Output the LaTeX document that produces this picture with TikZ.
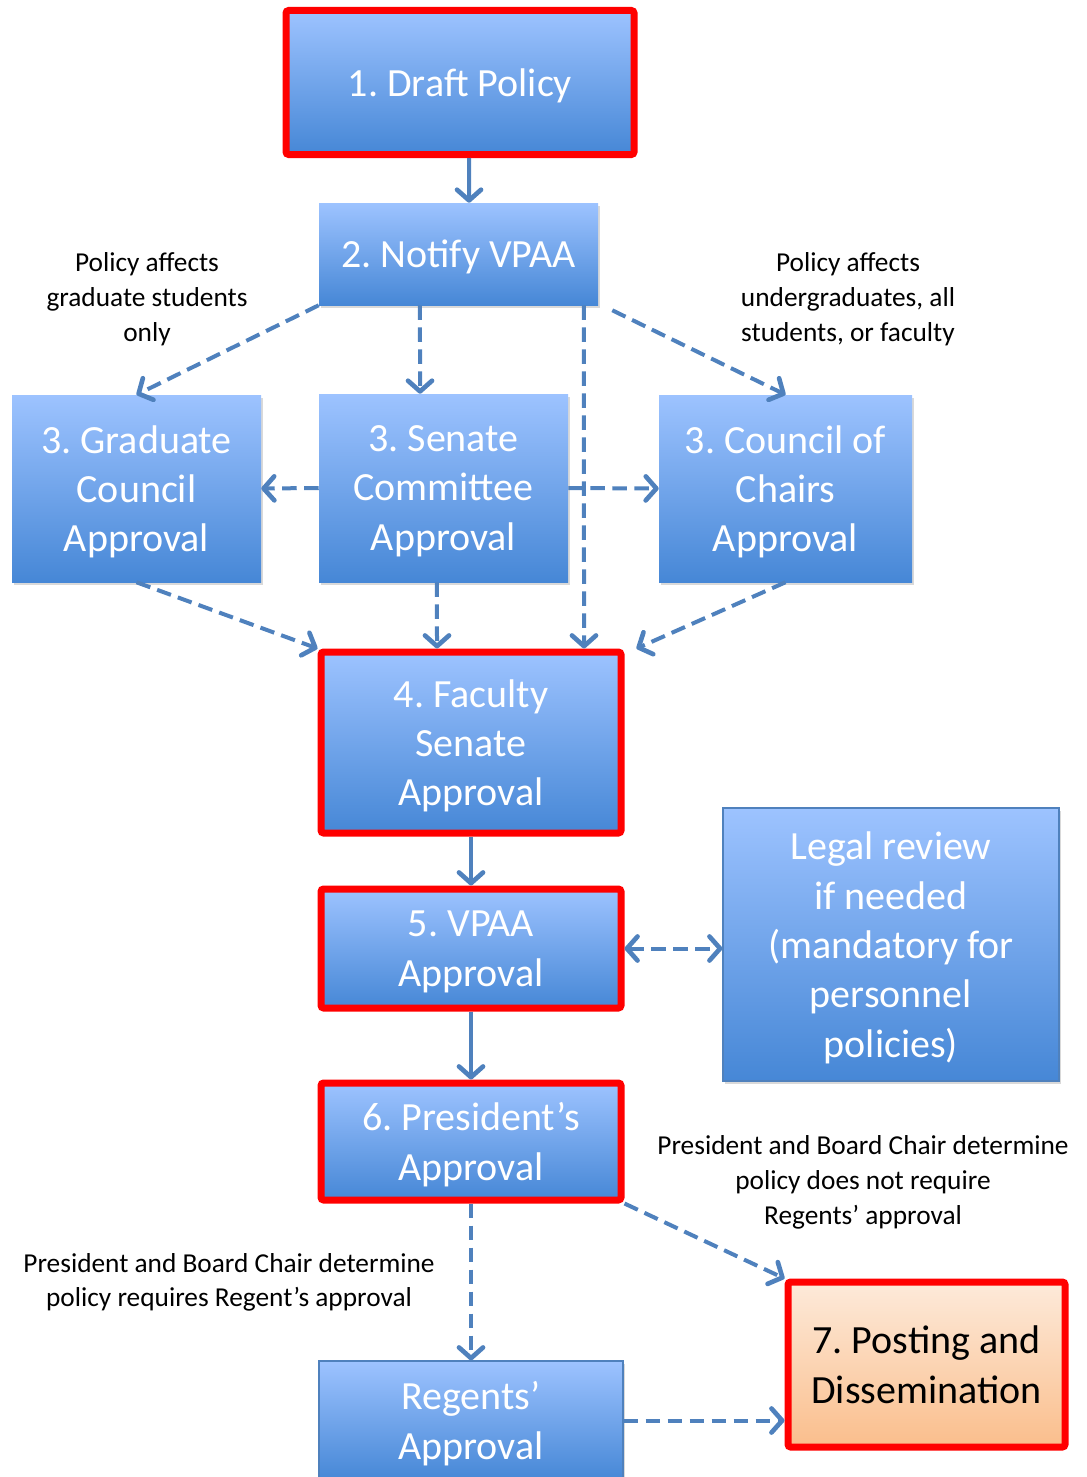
\documentclass[tikz,border=0pt]{standalone}
\usepackage{fontspec}
\setmainfont{Carlito}
\frenchspacing
\usetikzlibrary{arrows.meta,positioning,calc,shadows}
\definecolor{boxtop}{RGB}{157,195,255}
\definecolor{boxbot}{RGB}{70,135,214}
\definecolor{boxedge}{RGB}{79,129,189}
\definecolor{flowline}{RGB}{79,129,189}
\definecolor{posttop}{RGB}{253,234,218}
\definecolor{postbot}{RGB}{250,190,140}
\tikzset{
	flowtip/.tip={Straight Barb[length=8pt,width=18pt,line width=3.5pt,round]},
	stage/.style={rectangle, inner sep=0pt, align=center, text=white, text depth=0pt,
		font=\fontsize{30}{37}\selectfont, top color=boxtop, bottom color=boxbot,
		drop shadow={shadow xshift=1.5pt, shadow yshift=-2pt, opacity=0.3}},
	keystage/.style={stage, draw=red, line width=5.25pt, rounded corners=2pt},
	plainstage/.style={stage, draw=boxedge, line width=0.8pt},
	note/.style={align=center, text depth=0pt, font=\fontsize{20.5}{26}\selectfont},
	flow/.style={draw=flowline, line width=3pt, -flowtip},
	maybe/.style={flow, dash pattern=on 11pt off 5.5pt}
}
\begin{document}
\begin{tikzpicture}[x=0.75pt, y=-0.75pt]
	\useasboundingbox (0,0) rectangle (1086,1477);
	% stages
	\node[keystage, minimum width=261pt, minimum height=108pt] (draft) at (460,82.5) {1. Draft Policy};
	\node[stage, minimum width=209.25pt, minimum height=76.5pt] (notify) at (458.5,254) {2. Notify VPAA};
	\node[stage, minimum width=186.75pt, minimum height=140.25pt] (grad) at (136.5,488.5) {3. Graduate\\Council\\Approval};
	\node[stage, minimum width=186.75pt, minimum height=141pt] (senate) at (443.5,488) {3. Senate\\Committee\\Approval};
	\node[stage, minimum width=189.75pt, minimum height=140.25pt] (council) at (785.5,488.5) {3. Council of\\Chairs\\Approval};
	\node[keystage, minimum width=225pt, minimum height=135.75pt] (faculty) at (471,742.5) {4. Faculty\\Senate\\Approval};
	\node[plainstage, minimum width=252pt, minimum height=204.75pt] (legal) at (891,944.5) {Legal review\\if needed\\(mandatory for\\personnel\\policies)};
	\node[keystage, minimum width=225pt, minimum height=89.25pt] (vpaa) at (471,948.5) {5. VPAA\\Approval};
	\node[keystage, minimum width=225pt, minimum height=87.75pt] (pres) at (471,1141.5) {6. President’s\\Approval};
	\node[plainstage, minimum width=228pt, minimum height=89.25pt] (regents) at (471,1420.5) {Regents’\\Approval};
	\node[keystage, text=black, top color=posttop, bottom color=postbot, minimum width=207.75pt, minimum height=123.75pt] (posting) at (926.5,1364.5) {7. Posting and\\Dissemination};
	% notes
	\node[note] (gradnote) at (147,297) {Policy affects\\graduate students\\only};
	\node[note] (allnote) at (848,297) {Policy affects\\undergraduates, all\\students, or faculty};
	\node[note] (skipnote) at (863,1180) {President and Board Chair determine\\policy does not require\\Regents’ approval};
	\node[note] (regnote) at (229,1280) {President and Board Chair determine\\policy requires Regent’s approval};
	% connectors
	\draw[flow] ([xshift=6.75pt]draft.south) -- ([xshift=7.9pt]notify.north);
	\draw[maybe] (notify.south west) -- (grad.north);
	\draw[maybe] ([xshift=-28.9pt]notify.south) -- ([xshift=-17.6pt]senate.north);
	\draw[maybe] ([xshift=94.1pt]notify.south) -- ([xshift=84.75pt]faculty.north);
	\draw[maybe] ([xshift=10.5pt,yshift=-3.75pt]notify.south east) -- (council.north);
	\draw[maybe] (senate.west) -- (grad.east);
	\draw[maybe] (senate.east) -- (council.west);
	\draw[maybe] (grad.south) -- (faculty.north west);
	\draw[maybe] ([xshift=-4.9pt]senate.south) -- ([xshift=-25.5pt]faculty.north);
	\draw[maybe] (council.south) -- ([xshift=9pt]faculty.north east);
	\draw[flow] (faculty) -- (vpaa);
	\draw[maybe, flowtip-flowtip] (vpaa.east) -- (vpaa.east -| legal.west);
	\draw[flow] (vpaa) -- (pres);
	\draw[maybe] (pres) -- (regents);
	\draw[maybe] (pres.south east) -- (posting.north west);
	\draw[maybe] (regents.east) -- (regents.east -| posting.west);
\end{tikzpicture}
\end{document}
